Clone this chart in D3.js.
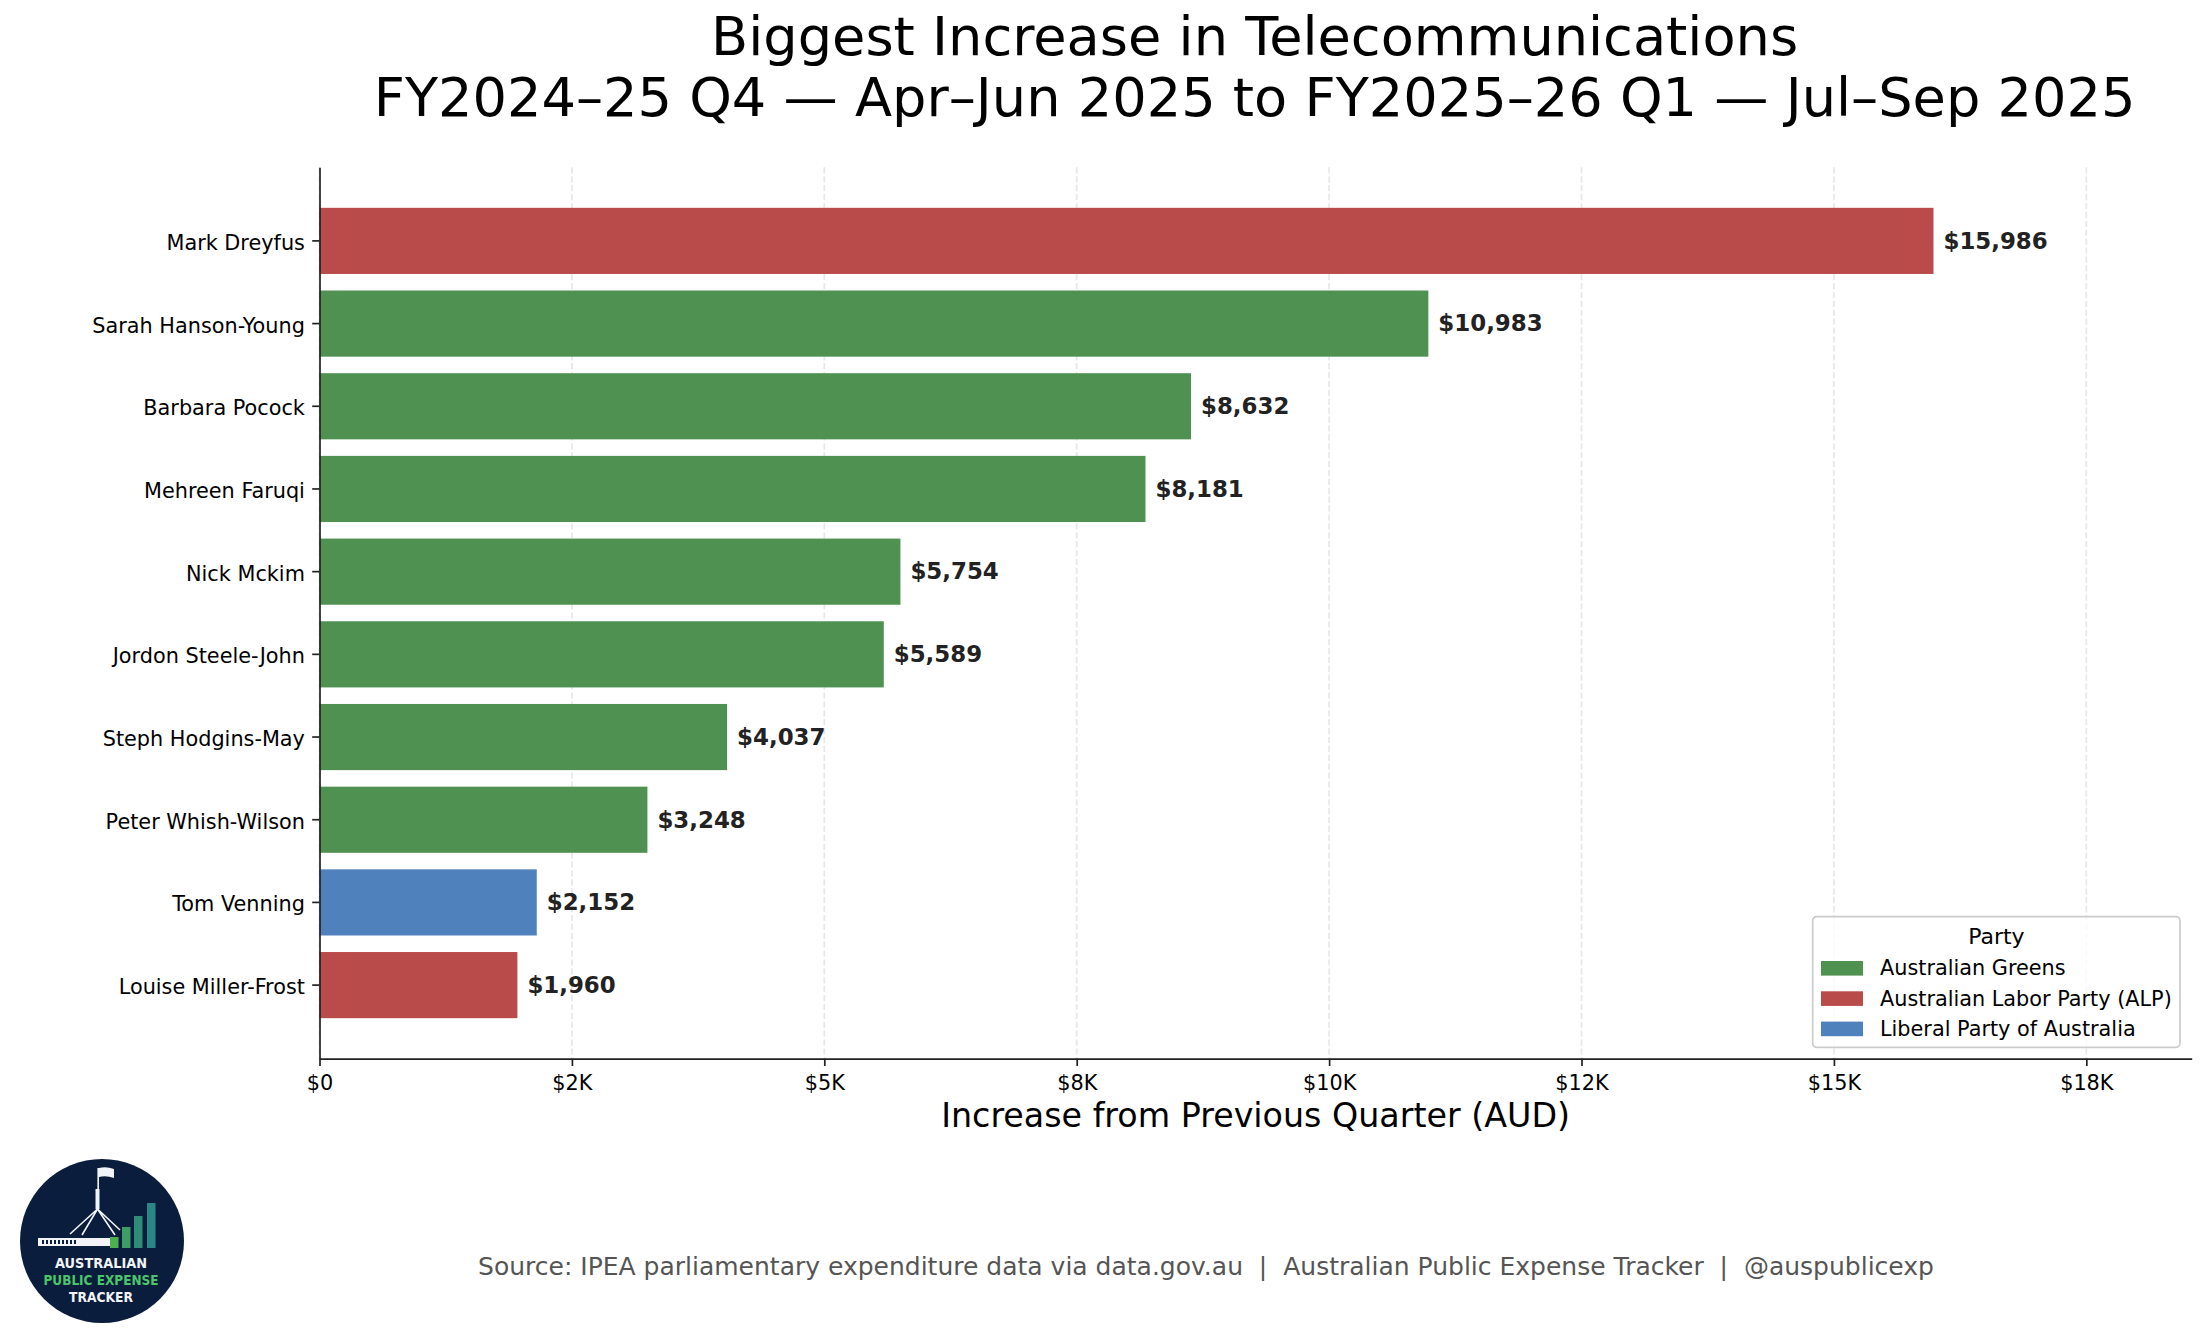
<!DOCTYPE html>
<html>
<head>
<meta charset="utf-8">
<script src="https://cdn.jsdelivr.net/npm/d3@7"></script>
<style>
  body { margin: 0; background: #fff; }
  svg { display: block; font-family: "DejaVu Sans", sans-serif; }
</style>
</head>
<body>
<svg id="chart"></svg>
<script>
// data, largest increase first
const names = ['Mark Dreyfus', 'Sarah Hanson-Young', 'Barbara Pocock', 'Mehreen Faruqi', 'Nick Mckim',
               'Jordon Steele-John', 'Steph Hodgins-May', 'Peter Whish-Wilson', 'Tom Venning', 'Louise Miller-Frost'];
const increases = [15986, 10983, 8632, 8181, 5754, 5589, 4037, 3248, 2152, 1960];
const parties = ['Australian Labor Party (ALP)', 'Australian Greens', 'Australian Greens', 'Australian Greens',
                 'Australian Greens', 'Australian Greens', 'Australian Greens', 'Australian Greens',
                 'Liberal Party of Australia', 'Australian Labor Party (ALP)'];
const partyNames = ['Australian Greens', 'Australian Labor Party (ALP)', 'Liberal Party of Australia'];
const partyColors = ['#4f9150', '#b94b4a', '#4f81bd'];
const tickValues = [0, 2500, 5000, 7500, 10000, 12500, 15000, 17500];
const tickLabels = ['$0', '$2K', '$5K', '$8K', '$10K', '$12K', '$15K', '$18K'];
const titleLines = ['Biggest Increase in Telecommunications',
                    'FY2024\u201325 Q4 \u2014 Apr\u2013Jun 2025 to FY2025\u201326 Q1 \u2014 Jul\u2013Sep 2025'];
const xLabel = 'Increase from Previous Quarter (AUD)';
const sourceText = 'Source: IPEA parliamentary expenditure data via data.gov.au  |  Australian Public Expense Tracker  |  @auspublicexp';

class IncreaseChart {

  constructor(_config) {
    this.config = {
      parentElement: _config.parentElement,
      containerWidth: 2205,
      containerHeight: 1337,
      margin: {top: 167.3, right: 13.3, bottom: 278.3, left: 319.5}
    }
    this.initVis();
  }

  initVis() {
    let vis = this;

    vis.svg = d3.select(vis.config.parentElement)
                .attr('width', vis.config.containerWidth)
                .attr('height', vis.config.containerHeight);

    vis.width = vis.config.containerWidth - vis.config.margin.left - vis.config.margin.right;
    vis.height = vis.config.containerHeight - vis.config.margin.top - vis.config.margin.bottom;

    vis.chart = vis.svg.append('g')
                   .attr('transform', `translate(${vis.config.margin.left},${vis.config.margin.top})`);

    vis.x = d3.scaleLinear()
              .domain([0, d3.max(increases) * 1.16])
              .range([0, vis.width]);

    vis.y = d3.scaleBand()
              .domain(names)
              .range([0, vis.height])
              .paddingInner(0.2)
              .paddingOuter(0.49);

    vis.color = d3.scaleOrdinal()
                  .domain(partyNames)
                  .range(partyColors);

    vis.renderVis();
  }

  renderVis() {
    let vis = this;
    const rows = names.map((n, i) => ({name: n, value: increases[i], party: parties[i]}));

    // dashed vertical grid
    vis.chart.append('g')
      .selectAll('line')
      .data(tickValues)
      .join('line')
        .attr('x1', d => vis.x(d))
        .attr('x2', d => vis.x(d))
        .attr('y1', 0)
        .attr('y2', vis.height)
        .attr('stroke', '#b0b0b0')
        .attr('stroke-opacity', 0.3)
        .attr('stroke-width', 1.7)
        .attr('stroke-dasharray', '6.2,2.7');

    vis.chart.append('g')
      .selectAll('rect')
      .data(rows)
      .join('rect')
        .attr('x', 0)
        .attr('y', d => vis.y(d.name))
        .attr('width', d => vis.x(d.value))
        .attr('height', vis.y.bandwidth())
        .attr('fill', d => vis.color(d.party));

    vis.chart.append('g')
      .selectAll('text')
      .data(rows)
      .join('text')
        .attr('x', d => vis.x(d.value) + 10)
        .attr('y', d => vis.y(d.name) + vis.y.bandwidth() / 2 + 7.8)
        .attr('font-size', 22.9)
        .attr('font-weight', 'bold')
        .attr('fill', '#222')
        .text(d => '$' + d3.format(',')(d.value));

    // axes
    const xAxis = d3.axisBottom(vis.x)
                    .tickValues(tickValues)
                    .tickFormat((d, i) => tickLabels[i])
                    .tickSize(7.3)
                    .tickSizeOuter(0)
                    .tickPadding(9);
    const yAxis = d3.axisLeft(vis.y)
                    .tickSize(7.3)
                    .tickSizeOuter(0)
                    .tickPadding(7.3);

    const gx = vis.chart.append('g')
                  .attr('transform', `translate(0,${vis.height})`)
                  .call(xAxis);
    const gy = vis.chart.append('g').call(yAxis);

    [gx, gy].forEach(g => {
      g.select('.domain').attr('stroke', '#222').attr('stroke-width', 1.7);
      g.selectAll('.tick line').attr('stroke', '#222').attr('stroke-width', 1.7);
      g.selectAll('.tick text')
        .attr('font-family', '"DejaVu Sans", sans-serif')
        .attr('font-size', 20.8)
        .attr('fill', '#000');
    });
    gx.selectAll('.tick text').attr('dy', null).attr('y', 31.5);
    gy.selectAll('.tick text').attr('dy', null).attr('y', 9);

    vis.chart.append('text')
      .attr('x', vis.width / 2)
      .attr('y', 1126.7 - vis.config.margin.top)
      .attr('text-anchor', 'middle')
      .attr('font-size', 33.3)
      .attr('fill', '#000')
      .text(xLabel);

    // title
    vis.svg.append('g')
      .selectAll('text')
      .data(titleLines)
      .join('text')
        .attr('x', vis.config.margin.left + vis.width / 2 - 1)
        .attr('y', (d, i) => 55 + i * 60.8)
        .attr('text-anchor', 'middle')
        .attr('font-size', 54.2)
        .attr('fill', '#000')
        .text(d => d);

    vis.renderLegend();

    vis.svg.append('text')
      .attr('x', 1206)
      .attr('y', 1275)
      .attr('text-anchor', 'middle')
      .attr('font-size', 25)
      .attr('fill', '#555')
      .attr('xml:space', 'preserve')
      .style('white-space', 'pre')
      .text(sourceText);

    vis.renderLogo();
  }

  renderLegend() {
    let vis = this;
    const lg = vis.svg.append('g').attr('transform', 'translate(1812.7,916.7)');

    lg.append('rect')
      .attr('width', 367.3)
      .attr('height', 130.6)
      .attr('rx', 4)
      .attr('fill', '#fff')
      .attr('fill-opacity', 0.8)
      .attr('stroke', '#cccccc')
      .attr('stroke-width', 1.7);

    lg.append('text')
      .attr('x', 183.7)
      .attr('y', 27.3)
      .attr('text-anchor', 'middle')
      .attr('font-size', 22)
      .attr('fill', '#000')
      .text('Party');

    const item = lg.selectAll('g.item')
      .data(partyNames)
      .join('g')
        .attr('class', 'item')
        .attr('transform', (d, i) => `translate(0,${44.3 + i * 30.3})`);

    item.append('rect')
      .attr('x', 8.3)
      .attr('width', 42)
      .attr('height', 14.6)
      .attr('fill', d => vis.color(d));

    item.append('text')
      .attr('x', 67.3)
      .attr('y', 14.3)
      .attr('font-size', 20.8)
      .attr('fill', '#000')
      .text(d => d);
  }

  renderLogo() {
    let vis = this;
    const navy = '#0b1d3c';
    const white = '#f2f4f7';
    const logo = vis.svg.append('g').attr('transform', 'translate(102,1241)');

    logo.append('circle').attr('r', 82).attr('fill', navy);

    // parliament house with flagpole
    logo.append('rect').attr('x', -64).attr('y', -3).attr('width', 72).attr('height', 8).attr('fill', white);
    logo.append('g')
      .selectAll('rect')
      .data(d3.range(9))
      .join('rect')
        .attr('x', d => -60 + d * 4)
        .attr('y', -1)
        .attr('width', 2)
        .attr('height', 4)
        .attr('fill', navy);
    logo.append('rect').attr('x', -4.6).attr('y', -73).attr('width', 1.6).attr('height', 42).attr('fill', white);
    logo.append('rect').attr('x', -6.5).attr('y', -52).attr('width', 4).attr('height', 20).attr('fill', white);
    logo.append('path')
      .attr('d', 'M-4.5,-32 L-32,-7 M-4.5,-32 L-20,-6 M-4.5,-32 L13,-6 M-4.5,-32 L18,-11')
      .attr('stroke', white)
      .attr('stroke-width', 1.6)
      .attr('fill', 'none');
    logo.append('path')
      .attr('d', 'M-3,-73 Q4,-75 12,-72 L12,-63 Q4,-66 -3,-64 Z')
      .attr('fill', white);

    const bars = [[8, 11, '#4caf50'], [20, 21, '#3d9d66'], [32, 32, '#2f8c78'], [45, 45, '#2a8786']];
    logo.selectAll('rect.bar')
      .data(bars)
      .join('rect')
        .attr('class', 'bar')
        .attr('x', d => d[0])
        .attr('y', d => 7 - d[1])
        .attr('width', 8.5)
        .attr('height', d => d[1])
        .attr('fill', d => d[2]);

    const words = [['AUSTRALIAN', 27, 92, white], ['PUBLIC EXPENSE', 44, 115, '#4cc46a'], ['TRACKER', 61, 64, white]];
    logo.selectAll('text')
      .data(words)
      .join('text')
        .attr('x', -1)
        .attr('y', d => d[1])
        .attr('text-anchor', 'middle')
        .attr('font-size', 14.5)
        .attr('font-weight', 'bold')
        .attr('textLength', d => d[2])
        .attr('lengthAdjust', 'spacingAndGlyphs')
        .attr('fill', d => d[3])
        .text(d => d[0]);
  }
}

new IncreaseChart({parentElement: '#chart'});
</script>
</body>
</html>
